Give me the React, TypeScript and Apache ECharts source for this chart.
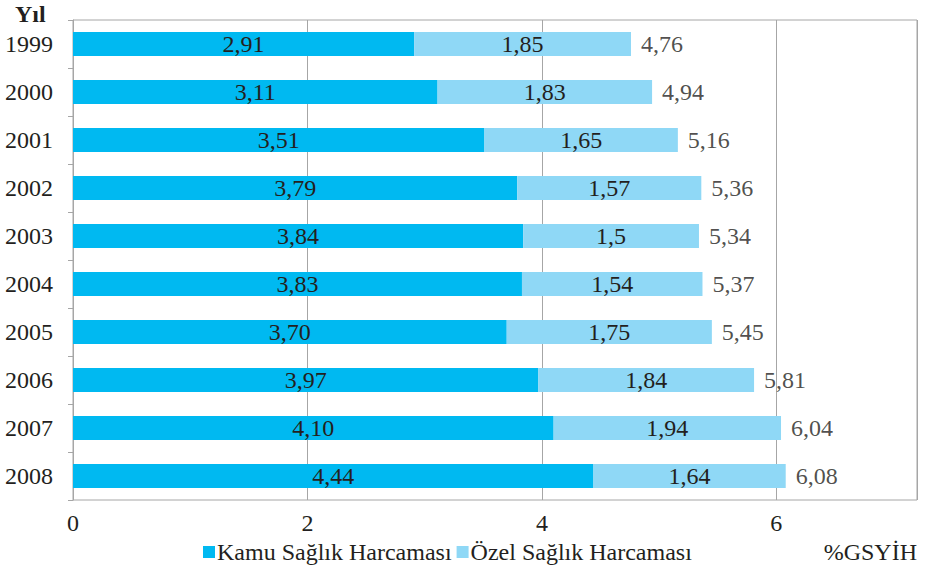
import React, { useEffect, useRef } from "react";
import * as echarts from "echarts";

const years = ["1999", "2000", "2001", "2002", "2003", "2004", "2005", "2006", "2007", "2008"];
const kamu = [2.91, 3.11, 3.51, 3.79, 3.84, 3.83, 3.7, 3.97, 4.1, 4.44];
const ozel = [1.85, 1.83, 1.65, 1.57, 1.5, 1.54, 1.75, 1.84, 1.94, 1.64];
const totals = [4.76, 4.94, 5.16, 5.36, 5.34, 5.37, 5.45, 5.81, 6.04, 6.08];
const xTicks = [0, 2, 4, 6];

const FONT = "Liberation Serif";
const FS = 24;
const TXT = "#231f20";

export default function App() {
  const ref = useRef<HTMLDivElement>(null);
  useEffect(() => {
    const chart = echarts.init(ref.current!, null, { renderer: "svg" });
    chart.setOption({
      animation: false,
      textStyle: { fontFamily: FONT },
      grid: { left: 73, right: 8, top: 20, bottom: 68, show: true, borderColor: "#a6a6a6", borderWidth: 1 },
      legend: {
        left: 198,
        top: 535,
        itemWidth: 12,
        itemHeight: 12,
        itemGap: 5,
        icon: "rect",
        textStyle: { fontFamily: FONT, fontSize: FS, color: TXT, padding: [0, 0, 0, -3] },
        data: ["Kamu Sağlık Harcaması", "Özel Sağlık Harcaması"],
      },
      graphic: [
        { type: "text", left: 15, top: 2, style: { text: "Yıl", fontFamily: FONT, fontWeight: "bold", fontSize: FS, fill: TXT } },
        { type: "text", right: 8, top: 540, style: { text: "%GSYİH", fontFamily: FONT, fontSize: FS, fill: TXT } },
      ],
      xAxis: {
        type: "value",
        min: 0,
        max: 7.2,
        interval: 2,
        axisLine: { show: false },
        axisTick: { show: false },
        splitLine: { show: true, lineStyle: { color: "#a6a6a6", width: 1 } },
        axisLabel: {
          showMaxLabel: false,
          fontSize: FS,
          color: TXT,
          fontFamily: FONT,
          margin: 11,
          formatter: (v: number) => (xTicks.includes(v) ? String(v) : ""),
        },
      },
      yAxis: {
        type: "category",
        data: years,
        inverse: true,
        axisLine: { show: true, lineStyle: { color: "#a6a6a6" } },
        axisTick: { show: true, length: 5, lineStyle: { color: "#a6a6a6" } },
        axisLabel: { fontSize: FS, color: TXT, fontFamily: FONT, margin: 20 },
      },
      series: [
        {
          name: "Kamu Sağlık Harcaması",
          type: "bar",
          stack: "t",
          barWidth: "50%",
          itemStyle: { color: "#00b9f1" },
          label: {
            show: true,
            position: "inside",
            fontSize: FS,
            color: TXT,
            fontFamily: FONT,
            formatter: (p: any) => kamu[p.dataIndex].toFixed(2).replace(".", ","),
          },
          data: kamu,
        },
        {
          name: "Özel Sağlık Harcaması",
          type: "bar",
          stack: "t",
          barWidth: "50%",
          itemStyle: { color: "#8fd8f6" },
          label: {
            show: true,
            position: "inside",
            fontSize: FS,
            color: TXT,
            fontFamily: FONT,
            formatter: (p: any) => String(ozel[p.dataIndex]).replace(".", ","),
          },
          data: ozel,
        },
        {
          name: "Toplam",
          type: "scatter",
          symbolSize: 0,
          silent: true,
          label: {
            show: true,
            position: "right",
            distance: 10,
            fontSize: FS,
            color: TXT,
            fontFamily: FONT,
            formatter: (p: any) => totals[p.dataIndex].toFixed(2).replace(".", ","),
          },
          data: totals.map((t, i) => [t, years[i]]),
        },
      ],
    });
    return () => chart.dispose();
  }, []);
  return <div ref={ref} style={{ width: 925, height: 568, position: "absolute", left: 0, top: 0 }} />;
}
